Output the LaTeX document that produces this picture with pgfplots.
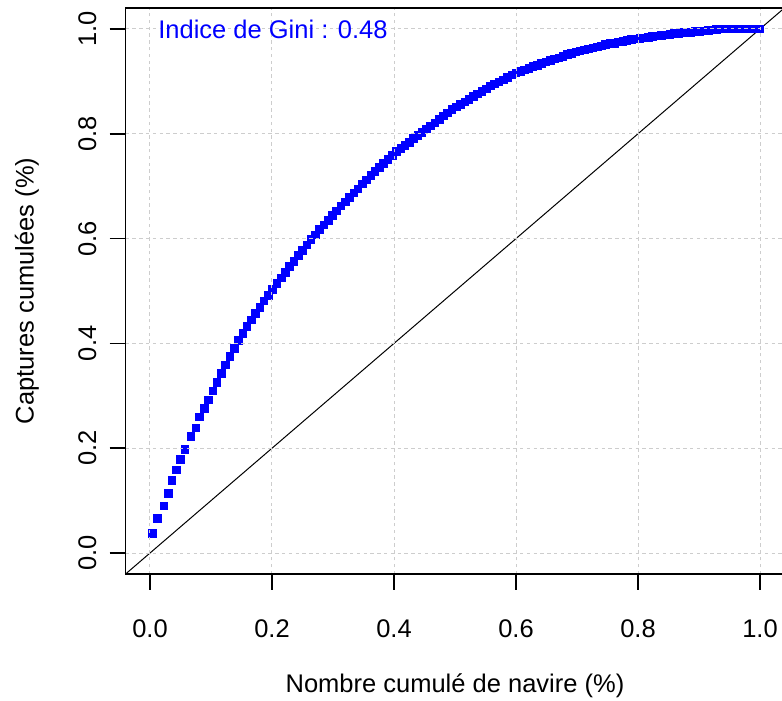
\documentclass[border=0pt]{standalone}
\usepackage{pgfplots}
\pgfplotsset{compat=1.18}
\usepackage{fontspec}
\setmainfont{Liberation Sans}
\definecolor{rblue}{RGB}{0,0,255}
\definecolor{rgrid}{RGB}{205,205,205}
\begin{document}
\begin{tikzpicture}
\begin{axis}[
  name=ax,
  scale only axis,
  width=329.4pt, height=283pt,
  xmin=-0.04, xmax=1.04, ymin=-0.04, ymax=1.04,
  set layers=axis on top,
  axis line style={line width=0.8pt},
  xtick={0,0.2,0.4,0.6,0.8,1.0},
  ytick={0,0.2,0.4,0.6,0.8,1.0},
  xticklabels={0.0,0.2,0.4,0.6,0.8,1.0},
  yticklabels={0.0,0.2,0.4,0.6,0.8,1.0},
  /pgf/number format/assume math mode=true,
  tick align=outside,
  xtick pos=bottom, ytick pos=left,
  major tick length=8pt,
  tick style={line width=0.8pt, black},
  grid=major,
  major grid style={rgrid, line width=0.5pt, dash pattern=on 1.7pt off 1.7pt},
  tick label style={font=\fontsize{12.75pt}{15pt}\selectfont},
  xticklabel style={anchor=north, inner sep=0pt},
  xticklabel shift=14.4pt,
  yticklabel style={rotate=90, anchor=south, inner sep=0pt},
  yticklabel shift=6.4pt,
  every axis x label/.style={at={(axis description cs:0.5,-0.198)}, anchor=center, font=\fontsize{12.75pt}{15pt}\selectfont},
  every axis y label/.style={at={(axis description cs:-0.150,0.5)}, rotate=90, anchor=center, font=\fontsize{12.75pt}{15pt}\selectfont},
  xlabel={Nombre cumulé de navire (\%)},
  ylabel={Captures cumulées (\%)},
  clip=true,
]
\addplot[only marks, mark=square*, mark size=1.9pt, rblue, mark options={draw=none, fill=rblue}] table {
x y
0.0044 0.038
0.012 0.066
0.023 0.090
0.030 0.114
0.036 0.139
0.043 0.159
0.050 0.179
0.057 0.198
0.067 0.223
0.075 0.239
0.081 0.260
0.089 0.276
0.096 0.292
0.103 0.309
0.110 0.326
0.117 0.343
0.124 0.359
0.131 0.375
0.138 0.391
0.145 0.406
0.152 0.419
0.159 0.432
0.166 0.445
0.173 0.457
0.180 0.469
0.187 0.481
0.194 0.492
0.201 0.503
0.208 0.514
0.215 0.525
0.222 0.536
0.229 0.547
0.236 0.557
0.243 0.568
0.250 0.578
0.257 0.588
0.264 0.598
0.271 0.607
0.278 0.617
0.285 0.626
0.292 0.635
0.299 0.644
0.306 0.653
0.313 0.662
0.320 0.670
0.327 0.679
0.334 0.687
0.341 0.695
0.348 0.704
0.355 0.712
0.362 0.720
0.369 0.728
0.376 0.736
0.383 0.744
0.390 0.751
0.397 0.759
0.404 0.766
0.411 0.772
0.418 0.778
0.425 0.784
0.432 0.791
0.439 0.797
0.446 0.803
0.453 0.809
0.460 0.815
0.467 0.821
0.474 0.827
0.481 0.834
0.488 0.840
0.495 0.846
0.502 0.851
0.509 0.856
0.516 0.861
0.523 0.866
0.530 0.871
0.537 0.876
0.544 0.881
0.551 0.886
0.558 0.891
0.565 0.895
0.572 0.899
0.579 0.903
0.586 0.907
0.593 0.912
0.600 0.916
0.607 0.919
0.614 0.922
0.621 0.925
0.628 0.928
0.635 0.931
0.642 0.934
0.649 0.937
0.656 0.940
0.663 0.943
0.670 0.945
0.677 0.948
0.684 0.951
0.691 0.953
0.698 0.956
0.705 0.958
0.712 0.960
0.719 0.962
0.726 0.964
0.733 0.966
0.740 0.968
0.747 0.970
0.754 0.972
0.761 0.973
0.768 0.975
0.775 0.976
0.782 0.978
0.789 0.980
0.796 0.981
0.803 0.982
0.810 0.983
0.817 0.984
0.824 0.986
0.831 0.987
0.838 0.988
0.845 0.989
0.852 0.990
0.859 0.991
0.866 0.992
0.873 0.993
0.880 0.993
0.887 0.994
0.894 0.995
0.901 0.995
0.908 0.996
0.915 0.997
0.922 0.998
0.929 0.999
0.936 1.000
0.943 1.000
0.950 1.000
0.957 1.000
0.964 1.000
0.971 1.000
0.978 1.000
0.985 1.000
0.992 1.000
0.999 1.000
};
\addplot[black, line width=0.5pt, mark=none] coordinates {(-0.04,-0.04) (1.04,1.04)};
\begin{pgfonlayer}{axis foreground}
\node[anchor=west, inner sep=0pt, text=rblue, font=\fontsize{12.75pt}{15pt}\selectfont] at (axis cs:0.013,1.0) {Indice de Gini : 0.48};
\end{pgfonlayer}
\end{axis}
\pgfresetboundingbox
\path[use as bounding box] ([xshift=-62.8pt,yshift=-63.5pt]ax.south west) rectangle ([xshift=-1.2pt,yshift=4pt]ax.north east);
\end{tikzpicture}
\end{document}
